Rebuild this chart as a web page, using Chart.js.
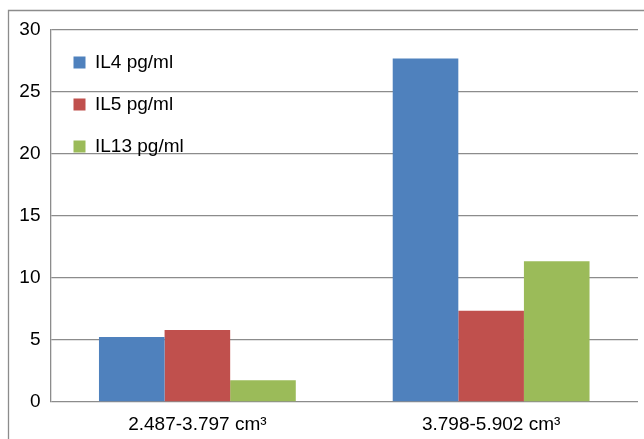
<!DOCTYPE html>
<html>
<head>
<meta charset="utf-8">
<script src="https://cdn.jsdelivr.net/npm/chart.js@4/dist/chart.umd.min.js"></script>
<style>
  html, body { margin: 0; padding: 0; background: #fff; }
  #wrap { width: 644px; height: 439px; position: relative; }
</style>
</head>
<body>
<div id="wrap"><canvas id="c" width="644" height="439"></canvas></div>
<script>
// Volume groups and cytokine levels (pg/ml)
const categories = ['2.487-3.797 cm\u00B3', '3.798-5.902 cm\u00B3'];
const seriesNames = ['IL4 pg/ml', 'IL5 pg/ml', 'IL13 pg/ml'];
const il4 = [5.25, 27.7];
const il5 = [5.8, 7.35];
const il13 = [1.75, 11.35];
const yTicks = [0, 5, 10, 15, 20, 25, 30];

const colors = ['#4F81BD', '#C0504D', '#9BBB59'];
const FONT = "'Liberation Sans', Arial, sans-serif";

// Outer frame: left and top edges of the chart box
const framePlugin = {
  id: 'frame',
  beforeDraw(chart) {
    const ctx = chart.ctx;
    ctx.save();
    ctx.strokeStyle = '#8c8c8c';
    ctx.lineWidth = 1.3;
    ctx.beginPath();
    ctx.moveTo(8.5, chart.height);
    ctx.lineTo(8.5, 10.5);
    ctx.lineTo(chart.width, 10.5);
    ctx.stroke();
    ctx.restore();
  }
};

new Chart(document.getElementById('c'), {
  type: 'bar',
  data: {
    labels: categories,
    datasets: [il4, il5, il13].map((vals, i) => ({
      label: seriesNames[i],
      data: vals,
      backgroundColor: colors[i],
      borderWidth: 0,
      categoryPercentage: 0.67,
      barPercentage: 1.0
    }))
  },
  options: {
    responsive: false,
    animation: false,
    layout: { padding: { top: 30, right: 6, bottom: 0, left: 0 } },
    plugins: {
      legend: {
        position: 'chartArea',
        align: 'start',
        // empty title used as a spacer above the legend entries
        title: {
          display: true,
          text: '',
          font: { size: 10, lineHeight: 1 },
          padding: { top: 20, bottom: 0 }
        },
        labels: {
          boxWidth: 12,
          boxHeight: 12,
          padding: 23,
          color: '#000',
          font: { family: FONT, size: 19 }
        }
      },
      tooltip: { enabled: false }
    },
    scales: {
      x: {
        grid: { display: false, drawTicks: false },
        border: { display: false },
        ticks: { color: '#000', font: { family: FONT, size: 19 }, padding: 11 },
        afterFit(scale) { scale.height = 37; }
      },
      y: {
        min: 0,
        max: 30,
        afterBuildTicks(scale) { scale.ticks = yTicks.map(v => ({ value: v })); },
        grid: { color: '#8c8c8c', lineWidth: 1.3, drawTicks: false },
        border: { display: true, color: '#8c8c8c', width: 1.3 },
        ticks: { color: '#000', font: { family: FONT, size: 19 }, padding: 10 },
        afterFit(scale) { scale.width = 50.5; }
      }
    }
  },
  plugins: [framePlugin]
});
</script>
</body>
</html>
